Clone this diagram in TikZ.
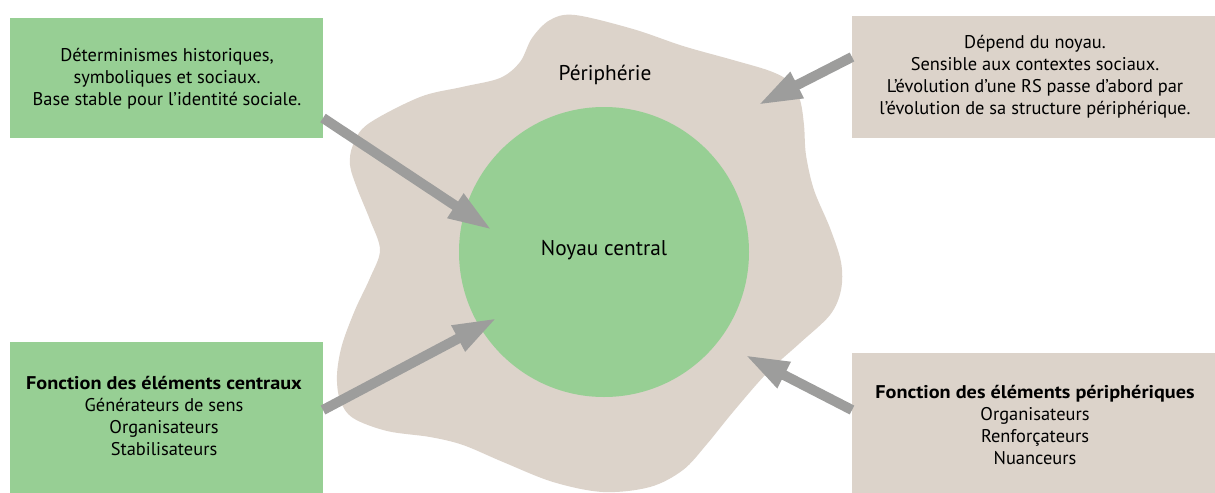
\documentclass[tikz,border=0pt]{standalone}
\usepackage{fontspec}
\setmainfont{PT Sans}
\usetikzlibrary{arrows.meta,calc}
\definecolor{leaf}{RGB}{151,207,148}
\definecolor{sand}{RGB}{220,211,202}
\definecolor{arrgray}{RGB}{157,157,156}
\newcommand{\headline}[1]{{\bfseries\addfontfeature{FakeStretch=1.1}#1}}
\begin{document}
\begin{tikzpicture}[x=0.75pt,y=-0.75pt,
  box/.style={draw=none,inner sep=0pt,outer sep=0pt},
  txt/.style={align=center,font=\fontsize{13.8}{16.5}\selectfont,inner sep=0pt},
  big/.style={font=\fontsize{16}{19}\selectfont,inner sep=0pt},
  conn/.style={draw=arrgray,line width=7.5pt,-{Triangle[length=33pt,width=20pt]}}]
\useasboundingbox (0,0) rectangle (1215,493);
% periphery blob
\fill[sand] plot[smooth cycle,tension=0.55] coordinates {
 (575,15) (633,29) (683,46) (733,60) (770,71) (790,82) (800,100) (804,125)
 (806,155) (814,190) (830,228) (841,262) (841,290) (830,315) (800,343)
 (767,373) (733,412) (707,444) (683,470) (650,487) (603,492) (553,482)
 (503,462) (463,445) (430,437) (387,431) (353,418) (340,400) (337,375)
 (342,345) (355,310) (370,278) (380,250) (370,220) (357,188) (350,165)
 (353,145) (368,124) (420,97) (462,87) (500,78) (520,62) (532,38) (550,20)};
% core
\node[circle,fill=leaf,minimum size=217.5pt,inner sep=0pt] (core) at (604,252) {};
\node[big] (coretxt) at (604,250) {Noyau central};
\node[big] (peri) at (605,75) {Périphérie};
% boxes
\path[fill=leaf] (10,18) rectangle (323,138);
\node[box,minimum width=234.75pt,minimum height=90pt] (tl) at (166.5,78) {};
\path[fill=leaf] (10,342) rectangle (323,493);
\node[box,minimum width=234.75pt,minimum height=113.25pt] (bl) at (166.5,417.5) {};
\path[fill=sand] (852,16) rectangle (1215,138);
\node[box,minimum width=272.25pt,minimum height=91.5pt] (tr) at (1033.5,77) {};
\path[fill=sand] (852,353) rectangle (1215,493);
\node[box,minimum width=272.25pt,minimum height=105pt] (br) at (1033.5,423) {};
% texts
\node[txt] (tltxt) at (167,79) {Déterminismes historiques,\\symboliques et sociaux.\\Base stable pour l’identité sociale.};
\node[txt] (trtxt) at (1035,77) {Dépend du noyau.\\Sensible aux contextes sociaux.\\L’évolution d’une RS passe d’abord par\\l’évolution de sa structure périphérique.};
\node[txt] (bltxt) at (164,416) {\headline{Fonction des éléments centraux}\\Générateurs de sens\\Organisateurs\\Stabilisateurs};
\node[txt] (brtxt) at (1035,425) {\headline{Fonction des éléments périphériques}\\Organisateurs\\Renforçateurs\\Nuanceurs};
% arrow tips
\coordinate (t1) at (492,230);
\coordinate (t2) at (497,318);
\coordinate (t3) at (758,105);
\coordinate (t4) at (745,355);
\draw[conn] ([yshift=15pt]tl.south east) -- (t1);
\draw[conn] ([yshift=-51pt]bl.north east) -- (t2);
\draw[conn] ([yshift=-30.75pt]tr.north west) -- (t3);
\draw[conn] ([yshift=-42.75pt]br.north west) -- (t4);
\end{tikzpicture}
\end{document}
